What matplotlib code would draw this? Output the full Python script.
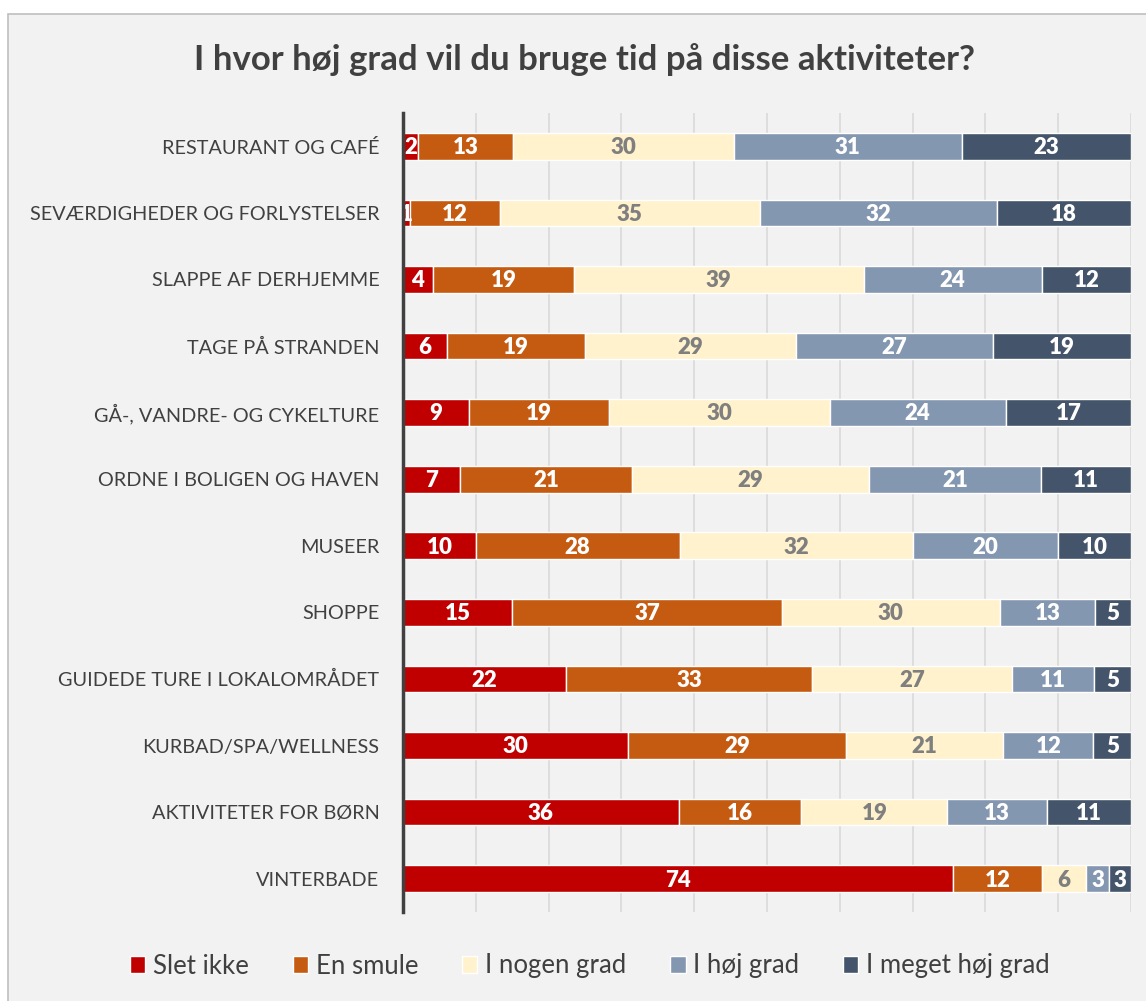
import numpy as np
import matplotlib.pyplot as plt
from matplotlib.patches import Rectangle

# Data (percent of respondents)
kategorier = ['RESTAURANT OG CAFÉ', 'SEVÆRDIGHEDER OG FORLYSTELSER', 'SLAPPE AF DERHJEMME',
              'TAGE PÅ STRANDEN', 'GÅ-, VANDRE- OG CYKELTURE', 'ORDNE I BOLIGEN OG HAVEN',
              'MUSEER', 'SHOPPE', 'GUIDEDE TURE I LOKALOMRÅDET', 'KURBAD/SPA/WELLNESS',
              'AKTIVITETER FOR BØRN', 'VINTERBADE']
slet_ikke = [2, 1, 4, 6, 9, 7, 10, 15, 22, 30, 36, 74]
en_smule = [13, 12, 19, 19, 19, 21, 28, 37, 33, 29, 16, 12]
noget_grad = [30, 35, 39, 29, 30, 29, 32, 30, 27, 21, 19, 6]
hoj_grad = [31, 32, 24, 27, 24, 21, 20, 13, 11, 12, 13, 3]
meget_hoj = [23, 18, 12, 19, 17, 11, 10, 5, 5, 5, 11, 3]

serier = ['Slet ikke', 'En smule', 'I nogen grad', 'I høj grad', 'I meget høj grad']
farver = ['#C00000', '#C55A11', '#FFF2CC', '#8497B0', '#44546A']
tekstfarver = ['white', 'white', '#7F7F7F', 'white', 'white']

plt.rcParams['font.family'] = ['Lato', 'DejaVu Sans']

data = np.array([slet_ikke, en_smule, noget_grad, hoj_grad, meget_hoj], dtype=float)
andel = data / data.sum(axis=0) * 100  # 100% stablet

fig = plt.figure(figsize=(11.46, 10.01), dpi=100)
fig.patch.set_facecolor('white')
# grå baggrundsboks med kant
fig.patches.append(Rectangle((8 / 1146, -0.01), 1.0, 1 - 14 / 1001 + 0.01,
                             transform=fig.transFigure, facecolor='#F2F2F2',
                             edgecolor='#BFBFBF', linewidth=1.2, zorder=-10))

ax = fig.add_axes([403 / 1146, 1 - 912 / 1001, 728 / 1146, 799 / 1001])
ax.set_facecolor('none')

y = np.arange(len(kategorier))
venstre = np.zeros(len(kategorier))
for i in range(len(serier)):
    ax.barh(y, andel[i], left=venstre, height=0.4, color=farver[i],
            edgecolor='white', linewidth=1, label=serier[i], zorder=3)
    for j in range(len(kategorier)):
        ax.text(venstre[j] + andel[i][j] / 2, y[j] + 0.02, str(int(data[i][j])),
                ha='center', va='center', fontsize=16, fontweight='heavy',
                color=tekstfarver[i], zorder=4)
    venstre += andel[i]

ax.set_xlim(0, 100)
ax.set_ylim(len(kategorier) - 0.5, -0.5)
ax.set_xticks(np.arange(0, 101, 10))
ax.set_xticklabels([])
ax.tick_params(axis='x', length=0)
ax.grid(axis='x', color='#D9D9D9', linewidth=1.2, zorder=0)
ax.set_yticks(y)
ax.set_yticklabels(kategorier, fontsize=14.3, color='#404040')
ax.tick_params(axis='y', length=0, pad=17)
for s in ['top', 'right', 'bottom']:
    ax.spines[s].set_visible(False)
ax.spines['left'].set_color('#404040')
ax.spines['left'].set_linewidth(2.5)
ax.spines['left'].set_zorder(5)

fig.text(585 / 1146, 1 - 60 / 1001, 'I hvor høj grad vil du bruge tid på disse aktiviteter?',
         ha='center', va='center', fontsize=25, fontweight='bold', color='#404040')

leg = fig.legend(loc='center', bbox_to_anchor=(590 / 1146, 1 - 966 / 1001), ncol=5,
                 frameon=False, fontsize=18.5, handlelength=0.6, handleheight=0.6,
                 handletextpad=0.3, columnspacing=1.7)
for t in leg.get_texts():
    t.set_color('#404040')

fig.savefig('out.png', dpi=100, facecolor=fig.get_facecolor())
